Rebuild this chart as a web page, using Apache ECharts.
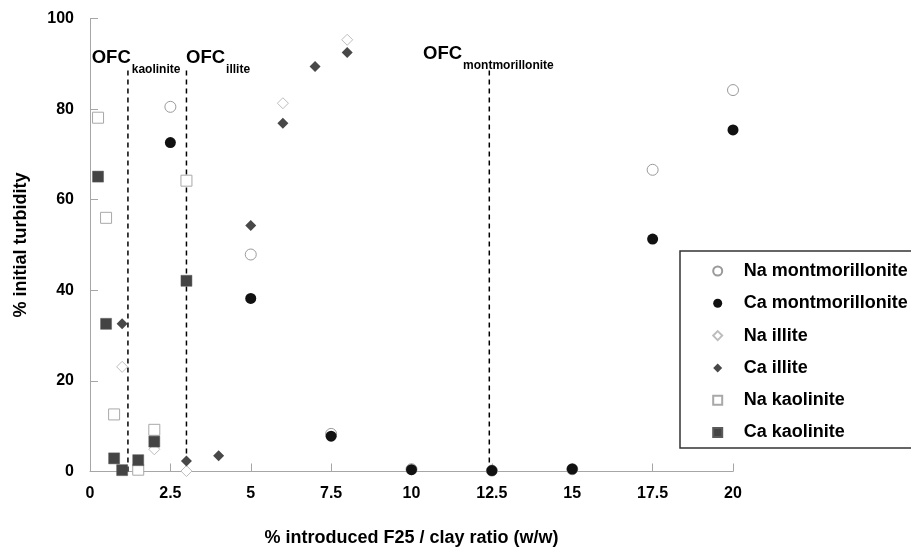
<!DOCTYPE html>
<html>
<head>
<meta charset="utf-8">
<script src="https://cdn.jsdelivr.net/npm/echarts@6/dist/echarts.min.js"></script>
<style>html,body{margin:0;padding:0;background:#fff}#chart{width:911px;height:550px}</style>
</head>
<body>
<div id="chart"></div>
<script>
// ---- data ----
const naMontX = [2.5, 5, 7.5, 10, 12.5, 15, 17.5, 20];
const naMontY = [80.5, 47.9, 8.3, 0.5, 0.2, 0.5, 66.6, 84.2];
const caMontX = [2.5, 5, 7.5, 10, 12.5, 15, 17.5, 20];
const caMontY = [72.6, 38.2, 7.8, 0.4, 0.2, 0.55, 51.3, 75.4];
const naIlliteX = [1, 2, 3, 6, 8];
const naIlliteY = [23.1, 4.9, 0.1, 81.3, 95.3];
const caIlliteX = [1, 3, 4, 5, 6, 7, 8];
const caIlliteY = [32.6, 2.3, 3.5, 54.3, 76.9, 89.4, 92.5];
const naKaoX = [0.25, 0.5, 0.75, 1.5, 2, 3];
const naKaoY = [78.1, 56.0, 12.6, 0.4, 9.2, 64.2];
const caKaoX = [0.25, 0.5, 0.75, 1, 1.5, 2, 3];
const caKaoY = [65.1, 32.6, 2.9, 0.3, 2.5, 6.6, 42.1];
const ofcNames = ['kaolinite', 'illite', 'montmorillonite'];
const ofcX = [1.18, 3.0, 12.42];
const ofcTop = 88.5;
const ofcLabelX = [0.053, 2.986, 10.36];
const ofcLabelY = [93.4, 93.4, 94.3];
const seriesNames = ['Na montmorillonite', 'Ca montmorillonite', 'Na illite', 'Ca illite', 'Na kaolinite', 'Ca kaolinite'];
const xTicks = {min: 0, max: 20, interval: 2.5};
const yTicks = {min: 0, max: 100, interval: 20};

const zip = (xs, ys) => xs.map((x, i) => [x, ys[i]]);
const FONT = "'Liberation Sans', Arial, sans-serif";
const axisGray = '#a6a6a6';

const styles = [
  {symbol: 'circle', size: 11, item: {color: '#ffffff', borderColor: '#9a9a9a', borderWidth: 1, opacity: 1}},
  {symbol: 'circle', size: 11, item: {color: '#111111', opacity: 1}},
  {symbol: 'diamond', size: 11, item: {color: '#ffffff', borderColor: '#bdbdbd', borderWidth: 1, opacity: 1}},
  {symbol: 'diamond', size: 11, item: {color: '#484848', opacity: 1}},
  {symbol: 'rect', size: 11, item: {color: '#ffffff', borderColor: '#a8a8a8', borderWidth: 1, opacity: 1}},
  {symbol: 'rect', size: 11, item: {color: '#444444', borderColor: '#5a5a5a', borderWidth: 0.5, opacity: 1}}
];
const dataSets = [zip(naMontX, naMontY), zip(caMontX, caMontY), zip(naIlliteX, naIlliteY),
                  zip(caIlliteX, caIlliteY), zip(naKaoX, naKaoY), zip(caKaoX, caKaoY)];

const series = [];
ofcX.forEach((x, i) => {
  series.push({
    type: 'line', name: 'OFC ' + ofcNames[i], data: [[x, 0], [x, ofcTop]],
    symbol: 'none', silent: true, z: 1,
    lineStyle: {color: '#000', width: 1.5, type: [5, 4]}
  });
});
seriesNames.forEach((n, i) => {
  series.push({
    type: 'scatter', name: n, data: dataSets[i], symbol: styles[i].symbol,
    symbolSize: styles[i].size, itemStyle: styles[i].item, z: 3 + i
  });
});
series.push({
  type: 'scatter', name: 'OFC labels', silent: true, symbolSize: 0, z: 10,
  itemStyle: {opacity: 1},
  data: ofcNames.map((n, i) => ({name: n, value: [ofcLabelX[i], ofcLabelY[i]]})),
  label: {
    show: true, position: [0, 0], align: 'left', verticalAlign: 'top', opacity: 1,
    formatter: p => '{a|OFC}{b|' + p.name + '}',
    rich: {
      a: {fontFamily: FONT, fontSize: 18.5, fontWeight: 'bold', color: '#000', lineHeight: 20, verticalAlign: 'top'},
      b: {fontFamily: FONT, fontSize: 12, fontWeight: 'bold', color: '#000', lineHeight: 12, padding: [15, 0, 0, 1], verticalAlign: 'top'}
    }
  }
});

const chart = echarts.init(document.getElementById('chart'), null, {renderer: 'canvas'});
chart.setOption({
  animation: false,
  backgroundColor: '#fff',
  textStyle: {fontFamily: FONT},
  grid: {left: 90, top: 18.5, width: 643, height: 453, containLabel: false, outerBoundsMode: 'none'},
  xAxis: {
    type: 'value', min: xTicks.min, max: xTicks.max, interval: xTicks.interval,
    name: '% introduced F25 / clay ratio (w/w)', nameLocation: 'middle', nameGap: 58,
    nameTextStyle: {fontFamily: FONT, fontSize: 18, fontWeight: 'bold', color: '#000'},
    axisLine: {show: true, lineStyle: {color: axisGray, width: 1}},
    axisTick: {show: true, inside: true, length: 8, lineStyle: {color: axisGray}},
    axisLabel: {fontFamily: FONT, fontSize: 16, fontWeight: 'bold', color: '#000', margin: 14},
    splitLine: {show: false}
  },
  yAxis: {
    type: 'value', min: yTicks.min, max: yTicks.max, interval: yTicks.interval,
    name: '% initial turbidity', nameLocation: 'middle', nameGap: 60,
    nameTextStyle: {fontFamily: FONT, fontSize: 18, fontWeight: 'bold', color: '#000'},
    axisLine: {show: true, lineStyle: {color: axisGray, width: 1}},
    axisTick: {show: true, inside: true, length: 8, lineStyle: {color: axisGray}},
    axisLabel: {fontFamily: FONT, fontSize: 16, fontWeight: 'bold', color: '#000', margin: 16},
    splitLine: {show: false}
  },
  legend: {
    data: seriesNames, orient: 'vertical', left: 680, top: 251,
    padding: [11, 30, 6.5, 32.2], itemGap: 14.3, itemWidth: 9, itemHeight: 9,
    borderColor: '#333', borderWidth: 1.5, backgroundColor: '#fff',
    textStyle: {fontFamily: FONT, fontSize: 18, fontWeight: 'bold', color: '#000', padding: [0, 0, 0, 16.5]},
    selectedMode: false
  },
  series: series
});
</script>
</body>
</html>
